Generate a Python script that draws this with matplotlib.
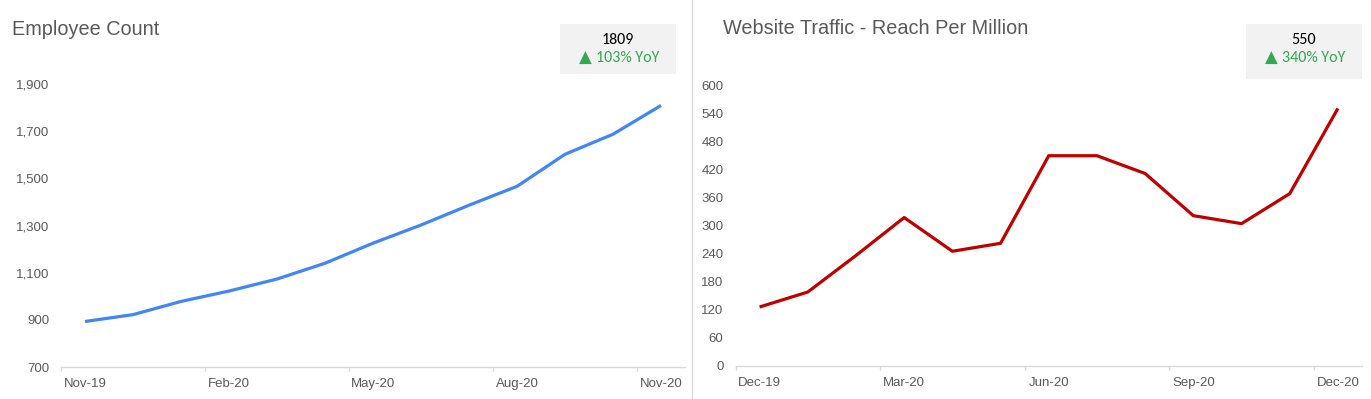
import matplotlib
matplotlib.use("Agg")
import matplotlib.pyplot as plt
from matplotlib.patches import Rectangle
from matplotlib.lines import Line2D
from matplotlib.ticker import FuncFormatter

# ---------------- data ----------------
emp_months = ["Nov-19", "Dec-19", "Jan-20", "Feb-20", "Mar-20", "Apr-20", "May-20",
              "Jun-20", "Jul-20", "Aug-20", "Sep-20", "Oct-20", "Nov-20"]
emp_values = [893, 922, 978, 1022, 1073, 1140, 1225, 1302, 1386, 1466, 1602, 1687, 1809]
emp_yticks = [700, 900, 1100, 1300, 1500, 1700, 1900]

web_months = ["Dec-19", "Jan-20", "Feb-20", "Mar-20", "Apr-20", "May-20", "Jun-20",
              "Jul-20", "Aug-20", "Sep-20", "Oct-20", "Nov-20", "Dec-20"]
web_values = [126, 158, 236, 317, 245, 262, 449, 449, 411, 321, 304, 368, 550]
web_yticks = [0, 60, 120, 180, 240, 300, 360, 420, 480, 540, 600]

emp_title = "Employee Count"
web_title = "Website Traffic - Reach Per Million"
emp_kpi = ("1809", "103% YoY")
web_kpi = ("550", "340% YoY")

# ---------------- style ----------------
W, H = 1371, 399
fig = plt.figure(figsize=(W / 100, H / 100), dpi=100)
fig.patch.set_facecolor("white")

LABEL_FONT = ["Liberation Sans", "DejaVu Sans"]
KPI_FONT = ["Carlito", "Lato", "DejaVu Sans"]
GRAY = "#595959"
AXIS = "#D9D9D9"
GREEN = "#34A853"


def px(x0, y0, x1, y1):
    """pixel box (top-left origin) -> figure fraction [l, b, w, h]"""
    return [x0 / W, 1 - y1 / H, (x1 - x0) / W, (y1 - y0) / H]


def panel(rect, months, values, yticks, color, fmt):
    ax = fig.add_axes(rect)
    n = len(values)
    xs = list(range(n))
    ax.plot(xs, values, color=color, lw=2.3, solid_capstyle="butt", solid_joinstyle="round")
    ax.set_xlim(-0.5, n - 0.5)
    ax.set_ylim(yticks[0], yticks[-1])
    for s in ["top", "right", "left"]:
        ax.spines[s].set_visible(False)
    ax.spines["bottom"].set_color(AXIS)
    ax.spines["bottom"].set_linewidth(1.0)
    # major ticks at interval boundaries (no labels)
    major = [i - 0.5 for i in range(0, n + 1, 3)]
    ax.set_xticks(major)
    ax.set_xticklabels([""] * len(major))
    ax.tick_params(axis="x", which="major", length=3, width=1.0, color=AXIS, direction="out")
    # labels at month centres
    lab_pos = list(range(0, n, 3))
    ax.set_xticks(lab_pos, minor=True)
    ax.set_xticklabels([months[i] for i in lab_pos], minor=True)
    ax.tick_params(axis="x", which="minor", length=0, pad=8, labelsize=9.5, labelcolor=GRAY)
    for t in ax.get_xticklabels(minor=True):
        t.set_family(LABEL_FONT)
    ax.set_yticks(yticks)
    ax.yaxis.set_major_formatter(FuncFormatter(fmt))
    ax.tick_params(axis="y", length=0, pad=8.6, labelsize=9.5, labelcolor=GRAY)
    for t in ax.get_yticklabels():
        t.set_family(LABEL_FONT)
    ax.set_facecolor("none")
    return ax


panel(px(61, 84, 685, 367), emp_months, emp_values, emp_yticks, "#4285F4",
      lambda v, p: f"{int(v):,}")
panel(px(735.5, 85, 1362, 366), web_months, web_values, web_yticks, "#C00000",
      lambda v, p: f"{int(v)}")

# titles
fig.text(12 / W, 1 - 29.5 / H, emp_title, fontsize=14.3, color=GRAY, family=LABEL_FONT,
         ha="left", va="center")
fig.text(723 / W, 1 - 28.5 / H, web_title, fontsize=14.3, color=GRAY, family=LABEL_FONT,
         ha="left", va="center")


# KPI boxes
def kpi(x0, y0, x1, y1, texts):
    l, b, w, h = px(x0, y0, x1, y1)
    fig.patches.append(Rectangle((l, b), w, h, transform=fig.transFigure,
                                 facecolor="#F2F2F2", edgecolor="none", zorder=0))
    cx = (x0 + x1) / 2
    fig.text(cx / W, 1 - (y0 + 15.5) / H, texts[0], fontsize=11.5, color="black",
             family=KPI_FONT, ha="center", va="center")
    ty = 1 - (y0 + 33.5) / H
    fig.text((cx - 33) / W, ty, "\u25B2", fontsize=12, color=GREEN,
             family=["DejaVu Sans"], ha="center", va="center")
    fig.text((cx - 22) / W, ty, texts[1], fontsize=11.5, color=GREEN,
             family=KPI_FONT, ha="left", va="center")


kpi(560, 24, 676, 74, emp_kpi)
kpi(1246, 24, 1362, 79, web_kpi)

# divider
fig.add_artist(Line2D([692 / W, 692 / W], [0, 1], transform=fig.transFigure,
                      color=AXIS, lw=1.0))

fig.savefig("out.png", dpi=100, facecolor="white")
